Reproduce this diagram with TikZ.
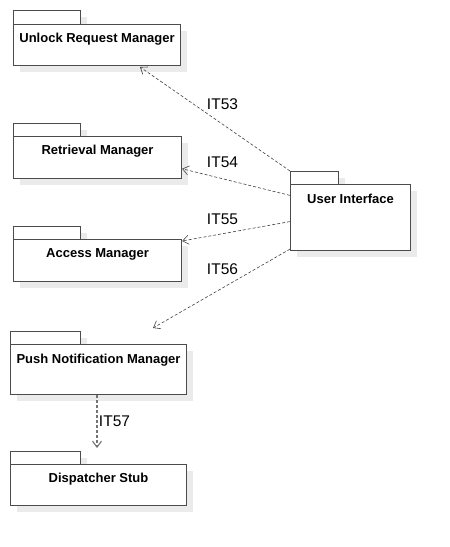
\documentclass[tikz,border=0pt]{standalone}
\usepackage{fontspec}
\setmainfont{Liberation Sans}
\usetikzlibrary{arrows.meta,calc,shadows}
\tikzset{
  pkgbox/.style={draw=black!70, line width=1.1pt, fill=white, rectangle, inner sep=0pt, anchor=north west,
    drop shadow={shadow xshift=6pt, shadow yshift=-6pt, fill=black!8, opacity=1}},
  pkgname/.style={font=\bfseries\fontsize{13}{15}\selectfont, anchor=base, inner sep=0pt},
  dep/.style={draw=black!75, line width=0.6pt, dash pattern=on 3pt off 2pt, -{Straight Barb[open,length=6pt,width=9pt]}},
  deplabel/.style={font=\fontsize{15.5}{17}\selectfont, inner sep=0pt}
}
\begin{document}
\begin{tikzpicture}[x=1pt,y=-1pt]
\useasboundingbox (0,0) rectangle (450,547);
% Unlock Request Manager
\node[pkgbox, minimum width=67pt, minimum height=14pt] (urmtab) at (13,10) {};
\node[pkgbox, minimum width=167pt, minimum height=41pt] (urm) at (13,24) {};
\node[pkgname] (urmtext) at ($(urm.north)+(0,18)$) {Unlock Request Manager};
% Retrieval Manager
\node[pkgbox, minimum width=67pt, minimum height=13pt] (rmtab) at (13,123) {};
\node[pkgbox, minimum width=168pt, minimum height=42pt] (rm) at (13,136) {};
\node[pkgname] (rmtext) at ($(rm.north)+(0,18)$) {Retrieval Manager};
% Access Manager
\node[pkgbox, minimum width=67pt, minimum height=13pt] (amtab) at (13,226) {};
\node[pkgbox, minimum width=168pt, minimum height=42pt] (am) at (13,239) {};
\node[pkgname] (amtext) at ($(am.north)+(0,18)$) {Access Manager};
% Push Notification Manager
\node[pkgbox, minimum width=70pt, minimum height=13pt] (pnmtab) at (10,331) {};
\node[pkgbox, minimum width=176pt, minimum height=50pt] (pnm) at (10,344) {};
\node[pkgname] (pnmtext) at ($(pnm.north)+(0,19)$) {Push Notification Manager};
% Dispatcher Stub
\node[pkgbox, minimum width=70pt, minimum height=13pt] (dstab) at (10,451) {};
\node[pkgbox, minimum width=176pt, minimum height=41pt] (ds) at (10,464) {};
\node[pkgname] (dstext) at ($(ds.north)+(0,18)$) {Dispatcher Stub};
% User Interface
\node[pkgbox, minimum width=48pt, minimum height=13pt] (uitab) at (290,171) {};
\node[pkgbox, minimum width=120pt, minimum height=66pt] (ui) at (290,184) {};
\node[pkgname] (uitext) at ($(ui.north)+(0,19)$) {User Interface};
% connector end points
\coordinate (s53) at (uitab.north west);
\coordinate (s54) at ($(ui.north west)!0.17!(ui.south west)$);
\coordinate (s55) at ($(ui.north west)!0.56!(ui.south west)$);
\coordinate (s56) at ($(ui.north west)!0.97!(ui.south west)$);
\coordinate (e53) at (140,67);
\coordinate (e54) at ($(rm.north east)!0.76!(rm.south east)$);
\coordinate (e55) at ($(am.north east)+(0,2)$);
\coordinate (e56) at (153,328);
\coordinate (s57) at (pnm.south -| 97,0);
\coordinate (e57) at (97,448);
\draw[dep] (s53) -- (e53);
\draw[dep] (s54) -- (e54);
\draw[dep] (s55) -- (e55);
\draw[dep] (s56) -- (e56);
\draw[dep, draw=black!55, line width=1.1pt] (s57) -- (e57);
\node[deplabel] (l53) at (222.5,104) {IT53};
\node[deplabel] (l54) at (222.5,162) {IT54};
\node[deplabel] (l55) at (222.5,219) {IT55};
\node[deplabel] (l56) at (222.5,269) {IT56};
\node[deplabel] (l57) at (114.5,421.5) {IT57};
\end{tikzpicture}
\end{document}
